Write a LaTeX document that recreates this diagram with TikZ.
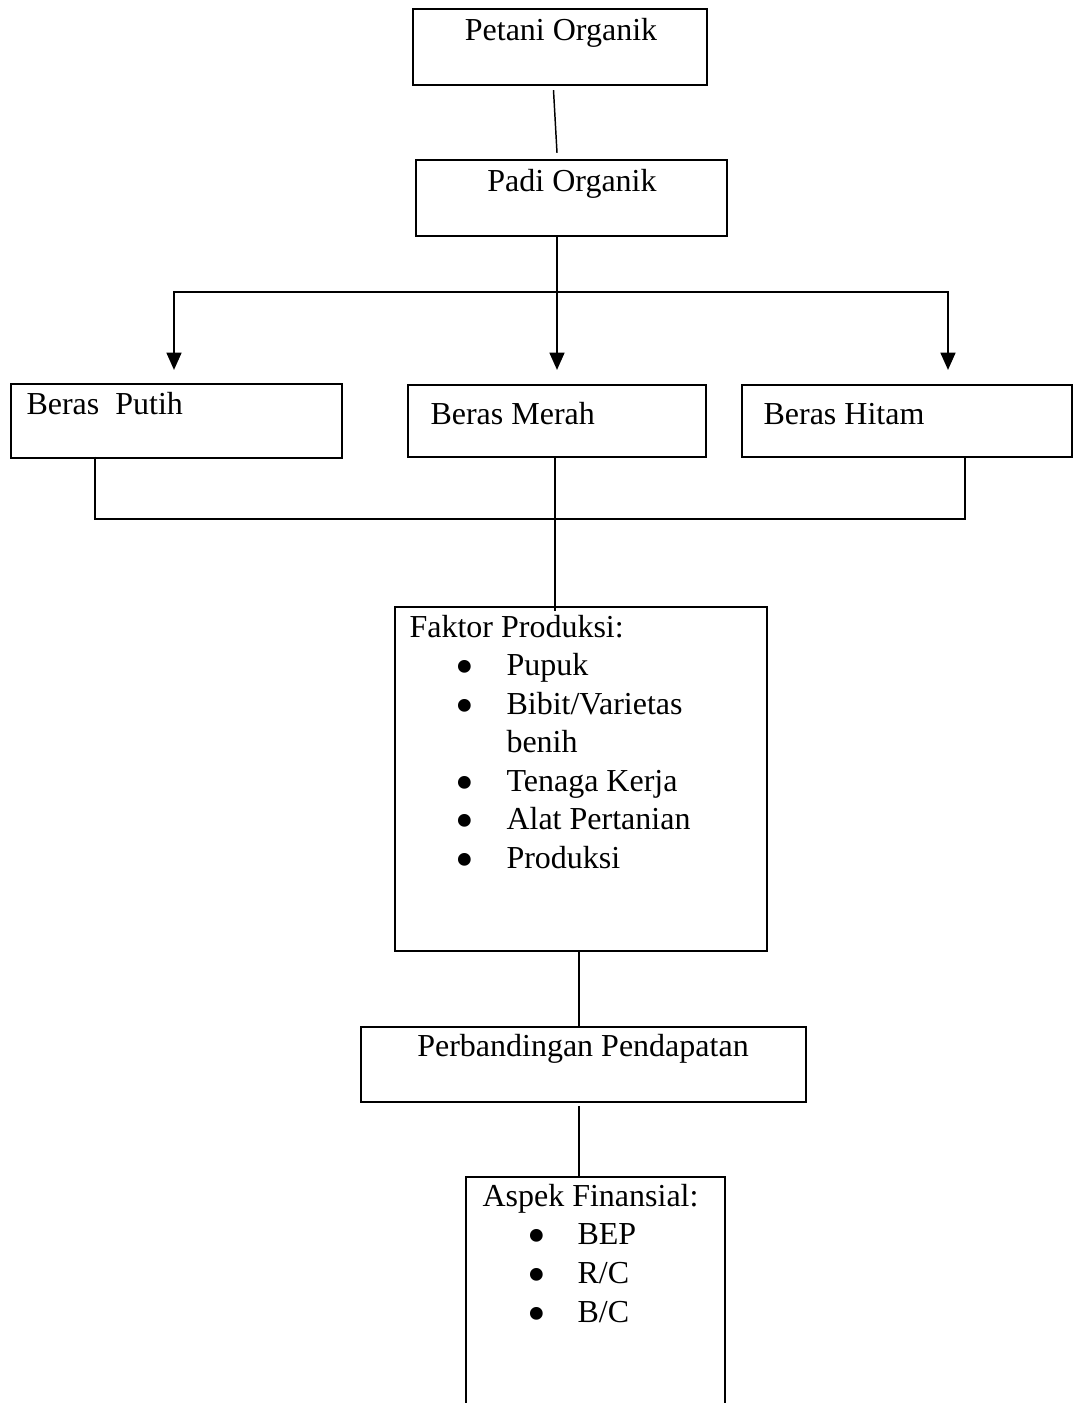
\documentclass[tikz,border=0pt]{standalone}
\usepackage{fontspec}
\setmainfont{Liberation Serif}
\usetikzlibrary{fit,arrows.meta}

\begin{document}
\begin{tikzpicture}[x=0.375pt,y=-0.375pt,line join=miter,>={Triangle[length=6.5pt,width=5.5pt]}]
	\tikzset{every node/.style={font=\fontsize{12}{14.5}\selectfont},
		box/.style={draw,line width=0.9pt,inner sep=0pt},
		txt/.style={inner sep=0pt,anchor=base west},
		dot/.style={inner sep=0pt,anchor=base,text height=0.45em,text depth=0pt,font=\fontsize{20}{20}\selectfont},
		link/.style={line width=0.55pt},
		branch/.style={line width=0.95pt}}
	\useasboundingbox (0,0) rectangle (1073,1403);
	\clip (0,0) rectangle (1073,1403);
	% kotak
	\node[box,fit={(413,9) (707,85)}] (petani) {};
	\node[box,fit={(416,160) (727,236)}] (padi) {};
	\node[box,fit={(11,384) (342,458)}] (putih) {};
	\node[box,fit={(408,385) (706,457)}] (merah) {};
	\node[box,fit={(742,385) (1072,457)}] (hitam) {};
	\node[box,fit={(395,607) (767,951)}] (faktor) {};
	\node[box,fit={(361,1027) (806,1102)}] (perband) {};
	\node[box,fit={(466,1177) (725,1460)}] (aspek) {};
	% teks
	\node[txt,anchor=base] (petani-t) at (561,40) {Petani Organik};
	\node[txt,anchor=base] (padi-t) at (572,191) {Padi Organik};
	\node[txt] (putih-t) at (26,414) {Beras\ \ Putih};
	\node[txt] (merah-t) at (430,424) {Beras Merah};
	\node[txt] (hitam-t) at (763,424) {Beras Hitam};
	\node[txt,anchor=base] (perband-t) at (583,1056) {Perbandingan Pendapatan};
	\node[txt] (faktor-t) at (409,637) {Faktor Produksi:};
	\foreach \y/\t in {675/Pupuk,714/{Bibit/Varietas},791/{Tenaga Kerja},829/{Alat Pertanian},868/Produksi}{
		\node[dot] (fb\y) at (465,\y+9) {\textbullet};
		\node[txt] (ft\y) at (506,\y) {\t};
	}
	\node[txt] (ft752) at (506,752) {benih};
	\node[txt] (aspek-t) at (482,1206) {Aspek Finansial:};
	\foreach \y/\t in {1244/BEP,1283/{R/C},1322/{B/C}}{
		\node[dot] (ab\y) at (537,\y+9) {\textbullet};
		\node[txt] (at\y) at (577,\y) {\t};
	}
	% garis
	\coordinate (split) at (557,292);
	\coordinate (tip-putih) at (174,370);
	\coordinate (tip-merah) at (557,370);
	\coordinate (tip-hitam) at (948,370);
	\coordinate (jp) at (95,519);
	\coordinate (jh) at (965,519);
	\coordinate (join) at (555,519);
	\coordinate (axis) at (579,0);
	\draw[link] ([shift={(-6.5,4)}]petani.south) -- ([shift={(-14.5,-6)}]padi.north);
	\draw[link] (padi.south -| split) -- (split);
	\draw[branch,->] (split) -| (tip-putih);
	\draw[branch,->] (split) -| (tip-hitam);
	\draw[branch,->] (split) -- (tip-merah);
	\draw[branch] ([yshift=1pt]putih.south -| jp) -- (jp) -- (jh) -- (hitam.south -| jh);
	\draw[link] (merah.south -| join) -- (faktor.north -| join) -- ++(0,5);
	\draw[link] (faktor.south -| axis) -- (perband.north -| axis);
	\draw[link] ([yshift=-1pt]perband.south -| axis) -- (aspek.north -| axis);
\end{tikzpicture}
\end{document}
